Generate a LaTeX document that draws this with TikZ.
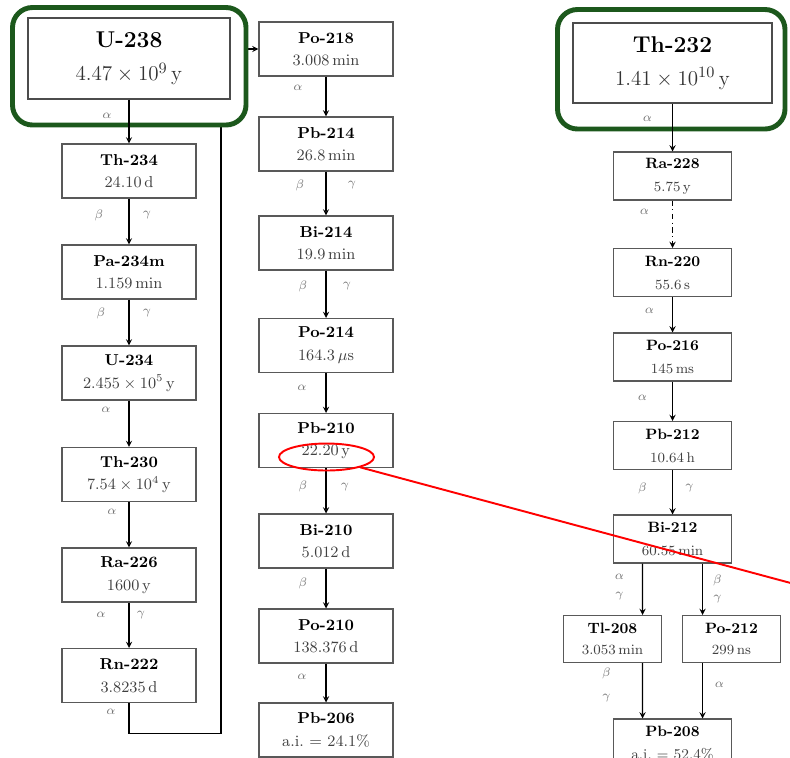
\documentclass[tikz,border=0pt]{standalone}
\usepackage{tikz}
\usepackage{xcolor}
\usepackage{amsmath}
\usetikzlibrary{shapes, arrows, backgrounds}
\definecolor{framegreen}{RGB}{28,88,28}
\tikzstyle{nuclide} = [rectangle, draw=black!65, semithick, align=center, minimum width=2.68cm, minimum height=1.08cm, font=\small, text=black!75]
\tikzstyle{parent} = [rectangle, draw=black!70, semithick, align=center, minimum width=4.04cm, minimum height=1.62cm, font=\fontsize{13}{17}\selectfont, text=black!80]
\tikzstyle{daughter} = [nuclide, minimum width=2.36cm, minimum height=0.96cm, font=\fontsize{8.5}{11}\selectfont]
\tikzstyle{branch} = [nuclide, minimum width=1.96cm, minimum height=0.94cm, font=\fontsize{8.5}{10}\selectfont]
\tikzstyle{chainframe} = [draw=framegreen, line width=2.8pt, rounded corners=0.4cm, fill=white]
\tikzstyle{arrow} = [semithick,->,>=stealth]
\tikzstyle{decay} = [font=\scriptsize, text=black!55, inner sep=1pt]
\newcommand{\nuc}[2]{\textcolor{black}{\textbf{#1}}\\[2pt]#2}

\begin{document}
\begin{tikzpicture}[node distance = 2cm]
    \useasboundingbox (0,0) rectangle (15.8,-15.14);
    % green frames round the two parents
    \draw[chainframe] (0.25,-0.15) rectangle (4.92,-2.5);
    \draw[chainframe] (11.15,-0.19) rectangle (15.7,-2.58);

    % uranium series
    \node(u238)[parent] at (2.58,-1.17){\nuc{U-238}{$4.47\times10^{9}\,\mathrm{y}$}};
    \node(th234)[nuclide, below of=u238, yshift=-0.25cm]{\nuc{Th-234}{$24.10\,\mathrm{d}$}};
    \node(pa234m)[nuclide, below of=th234, yshift=-0.02cm]{\nuc{Pa-234m}{$1.159\,\mathrm{min}$}};
    \node(u234)[nuclide, below of=pa234m, yshift=-0.02cm]{\nuc{U-234}{$2.455\times10^{5}\,\mathrm{y}$}};
    \node(th230)[nuclide, below of=u234, yshift=-0.03cm]{\nuc{Th-230}{$7.54\times10^{4}\,\mathrm{y}$}};
    \node(ra226)[nuclide, below of=th230, yshift=-0.01cm]{\nuc{Ra-226}{$1600\,\mathrm{y}$}};
    \node(rn222)[nuclide, below of=ra226, yshift=-0.01cm]{\nuc{Rn-222}{$3.8235\,\mathrm{d}$}};

    \node(po218)[nuclide] at (6.52,-0.98){\nuc{Po-218}{$3.008\,\mathrm{min}$}};
    \node(pb214)[nuclide, below of=po218, yshift=0.1cm]{\nuc{Pb-214}{$26.8\,\mathrm{min}$}};
    \node(bi214)[nuclide, below of=pb214, yshift=0.02cm]{\nuc{Bi-214}{$19.9\,\mathrm{min}$}};
    \node(po214)[nuclide, below of=bi214, yshift=-0.05cm]{\nuc{Po-214}{$164.3\,\mu\mathrm{s}$}};
    \node(pb210)[nuclide, below of=po214, yshift=0.1cm]{\nuc{Pb-210}{$22.20\,\mathrm{y}$}};
    \node(bi210)[nuclide, below of=pb210, yshift=-0.01cm]{\nuc{Bi-210}{$5.012\,\mathrm{d}$}};
    \node(po210)[nuclide, below of=bi210, yshift=0.1cm]{\nuc{Po-210}{$138.376\,\mathrm{d}$}};
    \node(pb206)[nuclide, below of=po210, yshift=0.12cm]{\nuc{Pb-206}{a.i.\ $=$ 24.1\%}};

    % thorium series
    \node(th232)[parent, minimum width=3.98cm, minimum height=1.6cm] at (13.45,-1.26){\nuc{Th-232}{$1.41\times10^{10}\,\mathrm{y}$}};
    \node(ra228)[daughter, below of=th232, yshift=-0.26cm]{\nuc{Ra-228}{$5.75\,\mathrm{y}$}};
    \node(rn220)[daughter, below of=ra228, yshift=0.07cm]{\nuc{Rn-220}{$55.6\,\mathrm{s}$}};
    \node(po216)[daughter, below of=rn220, yshift=0.31cm]{\nuc{Po-216}{$145\,\mathrm{ms}$}};
    \node(pb212)[daughter, below of=po216, yshift=0.23cm]{\nuc{Pb-212}{$10.64\,\mathrm{h}$}};
    \node(bi212)[daughter, below of=pb212, yshift=0.13cm]{\nuc{Bi-212}{$60.55\,\mathrm{min}$}};
    \node(tl208)[branch, below of=bi212, xshift=-1.2cm]{\nuc{Tl-208}{$3.053\,\mathrm{min}$}};
    \node(po212)[branch, right of=tl208, xshift=0.38cm]{\nuc{Po-212}{$299\,\mathrm{ns}$}};
    \node(pb208)[daughter, below of=tl208, xshift=1.2cm, yshift=-0.08cm]{\nuc{Pb-208}{a.i.\ $=$ 52.4\%}};

    % decays, uranium side
    \draw [arrow] (u238) -- node[decay, pos=0.38, xshift=-0.44cm]{$\alpha$} (th234);
    \draw [arrow] (th234) -- node[decay, pos=0.36, xshift=-0.6cm]{$\beta$} node[decay, pos=0.36, xshift=0.36cm]{$\gamma$} (pa234m);
    \draw [arrow] (pa234m) -- node[decay, pos=0.3, xshift=-0.56cm]{$\beta$} node[decay, pos=0.3, xshift=0.36cm]{$\gamma$} (u234);
    \draw [arrow] (u234) -- node[decay, pos=0.21, xshift=-0.46cm]{$\alpha$} (th230);
    \draw [arrow] (th230) -- node[decay, pos=0.21, xshift=-0.34cm]{$\alpha$} (ra226);
    \draw [arrow] (ra226) -- node[decay, pos=0.28, xshift=-0.56cm]{$\alpha$} node[decay, pos=0.28, xshift=0.24cm]{$\gamma$} (rn222);
    \begin{pgfonlayer}{background}
        \draw [arrow] (rn222.south) -- node[decay, pos=0.31, xshift=-0.36cm]{$\alpha$} ([yshift=-0.6cm]rn222.south) -| ([xshift=-0.75cm]po218.west) -- (po218.west);
    \end{pgfonlayer}
    \draw [arrow] (po218) -- node[decay, pos=0.29, xshift=-0.56cm]{$\alpha$} (pb214);
    \draw [arrow] (pb214) -- node[decay, pos=0.31, xshift=-0.52cm]{$\beta$} node[decay, pos=0.31, xshift=0.52cm]{$\gamma$} (bi214);
    \draw [arrow] (bi214) -- node[decay, pos=0.33, xshift=-0.46cm]{$\beta$} node[decay, pos=0.33, xshift=0.42cm]{$\gamma$} (po214);
    \draw [arrow] (po214) -- node[decay, pos=0.37, xshift=-0.48cm]{$\alpha$} (pb210);
    \draw [arrow] (pb210) -- node[decay, pos=0.41, xshift=-0.46cm]{$\beta$} node[decay, pos=0.41, xshift=0.38cm]{$\gamma$} (bi210);
    \draw [arrow] (bi210) -- node[decay, pos=0.37, xshift=-0.46cm]{$\beta$} (po210);
    \draw [arrow] (po210) -- node[decay, pos=0.33, xshift=-0.48cm]{$\alpha$} (pb206);

    % decays, thorium side
    \draw [arrow] (th232) -- node[decay, pos=0.31, xshift=-0.5cm]{$\alpha$} (ra228);
    \draw [arrow, dashdotted] (ra228) -- node[decay, pos=0.24, xshift=-0.56cm]{$\alpha$} (rn220);
    \draw [arrow] (rn220) -- node[decay, pos=0.38, xshift=-0.46cm]{$\alpha$} (po216);
    \draw [arrow] (po216) -- node[decay, pos=0.41, xshift=-0.6cm]{$\alpha$} (pb212);
    \draw [arrow] (pb212) -- node[decay, pos=0.41, xshift=-0.6cm]{$\beta$} node[decay, pos=0.41, xshift=0.34cm]{$\gamma$} (bi212);
    \draw [arrow] ([xshift=-0.6cm]bi212.south) -- node[decay, pos=0.25, xshift=-0.46cm]{$\alpha$} node[decay, pos=0.63, xshift=-0.46cm]{$\gamma$} ([xshift=0.6cm]tl208.north);
    \draw [arrow] ([xshift=0.6cm]bi212.south) -- node[decay, pos=0.33, xshift=0.3cm]{$\beta$} node[decay, pos=0.69, xshift=0.3cm]{$\gamma$} ([xshift=-0.58cm]po212.north);
    \draw [arrow] ([xshift=0.6cm]tl208.south) -- node[decay, pos=0.18, xshift=-0.72cm]{$\beta$} node[decay, pos=0.63, xshift=-0.72cm]{$\gamma$} ([xshift=-0.6cm]pb208.north);
    \draw [arrow] ([xshift=-0.58cm]po212.south) -- node[decay, pos=0.39, xshift=0.34cm]{$\alpha$} ([xshift=0.6cm]pb208.north);

    % red marker on the Pb-210 half-life
    \node(halo)[ellipse, draw=red, line width=1.1pt, minimum width=1.9cm, minimum height=0.54cm, inner sep=0pt] at (6.53,-9.14){};
    \coordinate (tail) at (16.0,-11.71);
    \draw [red, line width=1.1pt] (halo.-17) -- (tail);
\end{tikzpicture}
\end{document}
